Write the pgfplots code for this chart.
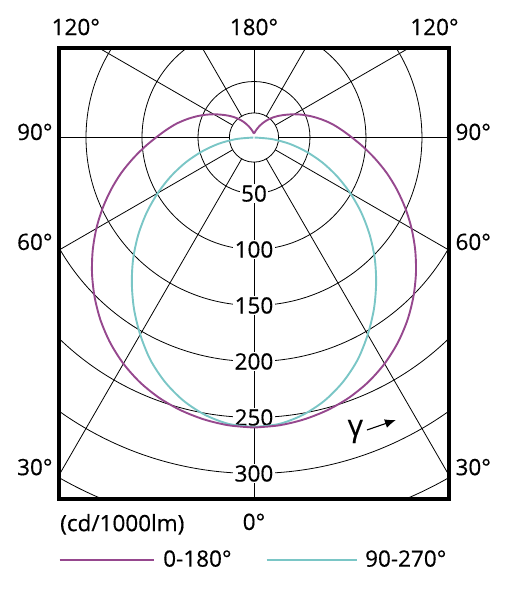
\documentclass[border=0pt]{standalone}
\usepackage{fontspec}
\setmainfont{Open Sans}[FakeBold=0.4]
\usepackage{pgfplots}
\pgfplotsset{compat=1.18}
\usepackage{pgfplotstable}
\usetikzlibrary{arrows.meta}
\definecolor{purp}{RGB}{150,72,142}
\definecolor{cyn}{RGB}{122,198,198}
\tikzset{gridl/.style={line width=0.8pt, black}}

% gamma (deg), intensity (cd/1000lm) -- plane 0-180
\pgfplotstableread{
g r
0 259
5 258
10 255.7
15 252.2
20 247.4
25 241.1
30 233.2
35 223.8
40 213.1
45 201.3
50 188.8
55 175.8
60 162.5
65 149.1
70 135.8
75 122.8
80 110
85 98.2
90 87.5
95 78.5
100 70.5
105 62.5
110 55
115 48
120 41.5
125 35.5
130 30.5
135 26
140 21.8
145 17.8
150 14.2
155 11
160 8.4
165 6.4
170 5
175 4
180 3.6
}\purpdata

% plane 90-270
\pgfplotstableread{
g r
0 258.5
5 256.8
10 251.5
15 243.3
20 232.3
25 219
30 203.2
35 186.8
40 169.7
45 152.5
50 134.8
55 117
60 99.2
65 81.8
70 64.8
75 48
80 32
85 16
90 0.5
}\cyndata

\begin{document}
\fontsize{22.5}{27}\selectfont
\begin{tikzpicture}
\begin{axis}[
  x=1.12pt, y=1.12pt,
  xmin=-174.5, xmax=174.5, ymin=-322.5, ymax=80.2,
  axis line style={line width=4pt},
  xtick=\empty, ytick=\empty,
  clip=true,
  after end axis/.code={
    \node[anchor=base] at (axis cs:-159.1,91.5) {120°};
    \node[anchor=base] at (axis cs:0,91.5) {180°};
    \node[anchor=base] at (axis cs:161.2,91.5) {120°};
    \node[anchor=base] at (axis cs:-195.7,-2.2) {90°};
    \node[anchor=base] at (axis cs:195.8,-2.2) {90°};
    \node[anchor=base] at (axis cs:-195.7,-100.4) {60°};
    \node[anchor=base] at (axis cs:195.8,-100.4) {60°};
    \node[anchor=base] at (axis cs:-195.7,-301.5) {30°};
    \node[anchor=base] at (axis cs:195.8,-301.5) {30°};
    \node[anchor=base] at (axis cs:0,-350.4) {0°};
    \node[anchor=base west, inner sep=0pt] at (axis cs:-173.2,-351.5) {(cd/1000lm)};
    \draw[purp, line width=2pt] (axis cs:-173.6,-377.2) -- (axis cs:-89.6,-377.2);
    \node[anchor=base west, inner sep=0pt] at (axis cs:-81.2,-383.2) {0-180°};
    \draw[cyn, line width=2pt] (axis cs:11.3,-377.2) -- (axis cs:91.7,-377.2);
    \node[anchor=base west, inner sep=0pt] at (axis cs:99.1,-383.2) {90-270°};
    \path (axis cs:-226.8,122.8) rectangle (axis cs:236.6,-413);
  },
]
% grid
\draw[gridl] (axis cs:0,0) circle[radius=22];
\pgfplotsinvokeforeach{50,100,150,200,250,300,350}{
  \draw[gridl] (axis cs:0,0) circle[radius=#1];
}
\pgfplotsinvokeforeach{0,30,60,90,120,150,180,210,240,270,300,330}{
  \draw[gridl] (axis cs:{22*cos(#1)},{22*sin(#1)}) -- (axis cs:{700*cos(#1)},{700*sin(#1)});
}
\pgfplotsinvokeforeach{50,100,150,200,250,300}{
  \node[fill=white, inner sep=1.5pt] at (axis cs:0,-#1) {#1};
}
% gamma arrow
\node[font=\fontsize{30}{32}\selectfont] at (axis cs:90.5,-262.5) {γ};
\draw[line width=1.1pt, -{Latex[length=11pt,width=9pt]}] (axis cs:100.9,-261.2) -- (axis cs:126.8,-252.2);
% curves
\addplot[cyn, line width=1.9pt, smooth, no markers] table[x expr={-\thisrow{r}*sin(\thisrow{g})}, y expr={-\thisrow{r}*cos(\thisrow{g})}] \cyndata;
\addplot[cyn, line width=1.9pt, smooth, no markers] table[x expr={\thisrow{r}*sin(\thisrow{g})}, y expr={-\thisrow{r}*cos(\thisrow{g})}] \cyndata;
\addplot[purp, line width=1.9pt, smooth, no markers] table[x expr={-\thisrow{r}*sin(\thisrow{g})}, y expr={-\thisrow{r}*cos(\thisrow{g})}] \purpdata;
\addplot[purp, line width=1.9pt, smooth, no markers] table[x expr={\thisrow{r}*sin(\thisrow{g})}, y expr={-\thisrow{r}*cos(\thisrow{g})}] \purpdata;
\end{axis}
\end{tikzpicture}
\end{document}
